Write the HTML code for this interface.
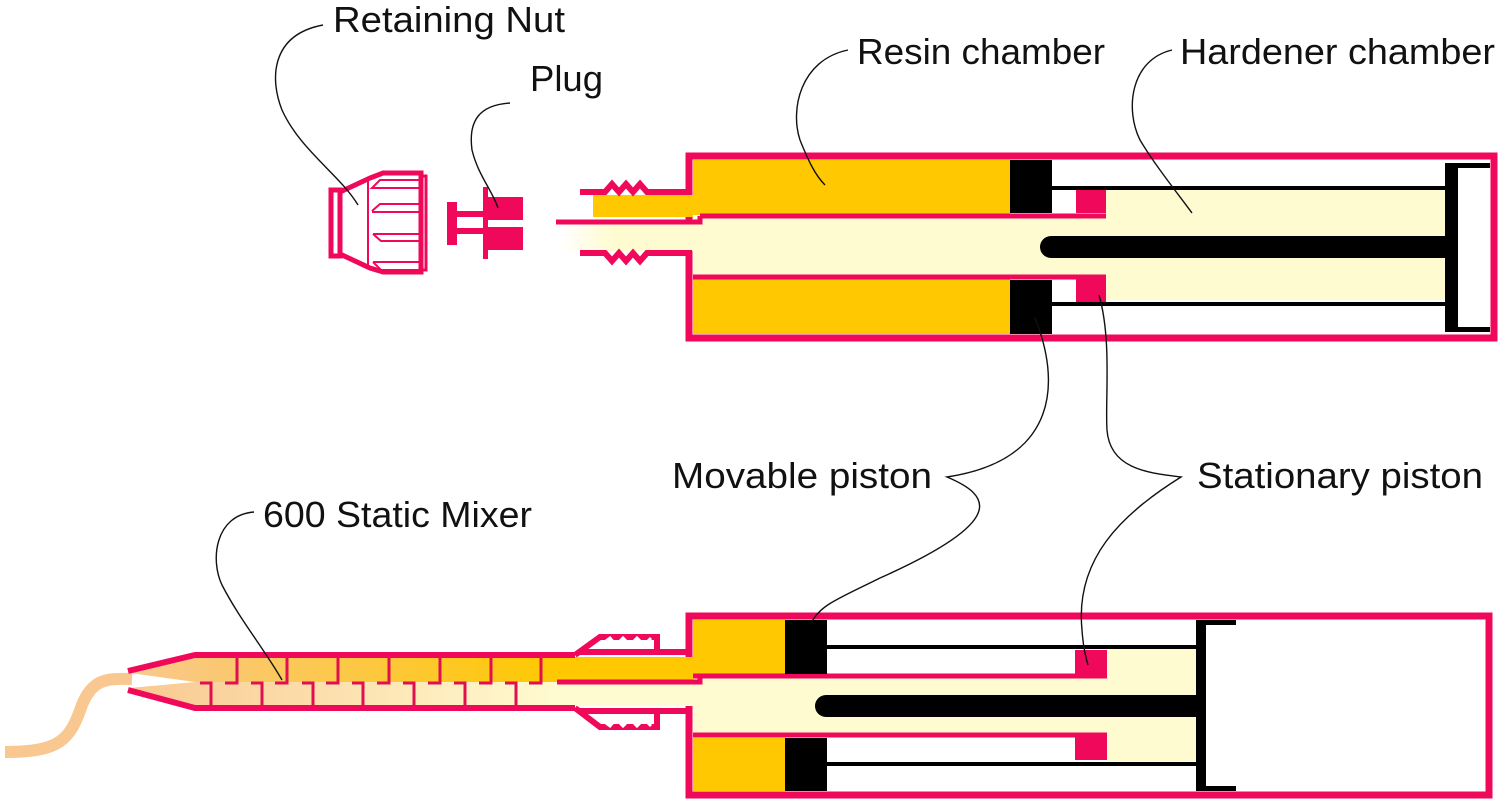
<!DOCTYPE html>
<html><head><meta charset="utf-8"><style>
html,body{margin:0;padding:0;background:#fff;}
svg{display:block;}
text{font-family:"Liberation Sans",sans-serif;font-size:36px;fill:#111;}
</style></head><body>
<svg width="1500" height="803" viewBox="0 0 1500 803" xmlns="http://www.w3.org/2000/svg">
<defs>
<linearGradient id="lt" x1="0" x2="1"><stop offset="0" stop-color="#fffbd0" stop-opacity="0"/><stop offset="0.4" stop-color="#fffbd0"/></linearGradient>
<linearGradient id="my" x1="0" x2="1"><stop offset="0" stop-color="#f9c890"/><stop offset="1" stop-color="#ffc800"/></linearGradient>
<linearGradient id="ml" x1="0" x2="1"><stop offset="0" stop-color="#f9c890"/><stop offset="1" stop-color="#fffbd0"/></linearGradient>
</defs>

<!-- ===== TOP CARTRIDGE ===== -->
<rect x="689" y="156" width="805" height="182" fill="#fff" stroke="#f0085a" stroke-width="7"/>
<rect x="693" y="160" width="317" height="55" fill="#ffc800"/>
<rect x="693" y="279" width="317" height="55" fill="#ffc800"/>
<rect x="1052" y="190" width="393" height="110" fill="#fffbd0"/>
<rect x="693" y="218" width="360" height="58" fill="#fffbd0"/>
<line x1="700" y1="216" x2="1106" y2="216" stroke="#f0085a" stroke-width="5"/>
<line x1="693" y1="277" x2="1106" y2="277" stroke="#f0085a" stroke-width="5"/>
<rect x="1010" y="160" width="42" height="53" fill="#000"/>
<rect x="1010" y="280" width="42" height="54" fill="#000"/>
<rect x="1052" y="190" width="24" height="23" fill="#fff"/>
<rect x="1052" y="280" width="24" height="22" fill="#fff"/>
<rect x="1076" y="190" width="30" height="23" fill="#f0085a"/>
<rect x="1076" y="276" width="30" height="26" fill="#f0085a"/>
<rect x="1052" y="186" width="393" height="4" fill="#000"/>
<rect x="1052" y="302" width="393" height="4" fill="#000"/>
<rect x="1445" y="163" width="13" height="169" fill="#000"/>
<rect x="1445" y="163" width="45" height="5" fill="#000"/>
<rect x="1445" y="327" width="45" height="5" fill="#000"/>
<path d="M1051 236 H1446 V258 H1051 A11 11 0 0 1 1051 236 Z" fill="#000"/>
<!-- top outlet -->
<rect x="593" y="195" width="100" height="22" fill="#ffc800"/>
<rect x="560" y="224" width="135" height="27" fill="url(#lt)"/>
<path d="M580 192 H605 L612 184 L619 192 L626 184 L633 192 L640 184 L647 192 H689 V156" fill="none" stroke="#f0085a" stroke-width="6"/>
<path d="M580 253 H605 L612 261 L619 253 L626 261 L633 253 L640 261 L647 253 H689 V338" fill="none" stroke="#f0085a" stroke-width="6"/>
<path d="M556 222 H700 V216" fill="none" stroke="#f0085a" stroke-width="5"/>

<!-- Retaining nut -->
<g fill="none" stroke="#f0085a">
<rect x="331" y="190" width="9" height="66" stroke-width="5"/>
<path d="M340 192 L370 178 L383 173 H421 V272 H383 L370 268 L340 254" stroke-width="5"/>
<line x1="368" y1="177" x2="368" y2="269" stroke-width="2"/>
<rect x="421" y="176" width="5" height="94" stroke-width="3"/>
<path d="M372 188 L380 180 H420 V188 Z" stroke-width="2"/>
<path d="M372 211 L380 204 H420 V212 H372" stroke-width="2"/>
<path d="M373 234 L381 241 H420 V234 H373" stroke-width="2"/>
<path d="M373 262 L381 270 H420 V262 H373" stroke-width="2"/>
</g>
<!-- Plug -->
<g fill="#f0085a">
<rect x="447" y="202" width="10" height="43"/>
<rect x="457" y="211" width="30" height="6"/>
<rect x="457" y="228" width="30" height="6"/>
<rect x="483" y="187" width="5" height="72"/>
<rect x="486" y="197" width="37" height="23"/>
<rect x="486" y="227" width="37" height="23"/>
</g>

<!-- ===== BOTTOM CARTRIDGE ===== -->
<rect x="689" y="616" width="800" height="179" fill="#fff" stroke="#f0085a" stroke-width="7"/>
<rect x="693" y="620" width="92" height="54" fill="#ffc800"/>
<rect x="693" y="738" width="92" height="53" fill="#ffc800"/>
<rect x="693" y="677" width="507" height="58" fill="#fffbd0"/>
<rect x="1107" y="649" width="93" height="112" fill="#fffbd0"/>
<line x1="693" y1="676" x2="1107" y2="676" stroke="#f0085a" stroke-width="5"/>
<line x1="693" y1="735" x2="1107" y2="735" stroke="#f0085a" stroke-width="5"/>
<rect x="785" y="620" width="42" height="54" fill="#000"/>
<rect x="785" y="738" width="42" height="53" fill="#000"/>
<rect x="1075" y="650" width="32" height="25" fill="#f0085a"/>
<rect x="1075" y="735" width="32" height="25" fill="#f0085a"/>
<rect x="827" y="645" width="373" height="4" fill="#000"/>
<rect x="827" y="762" width="373" height="4" fill="#000"/>
<rect x="1196" y="620" width="10" height="171" fill="#000"/>
<rect x="1196" y="620" width="40" height="5" fill="#000"/>
<rect x="1196" y="786" width="40" height="5" fill="#000"/>
<path d="M826 695 H1197 V717 H826 A11 11 0 0 1 826 695 Z" fill="#000"/>

<!-- bottom outlet/coupler -->
<rect x="555" y="657" width="138" height="24" fill="#ffc800"/>
<rect x="555" y="684" width="138" height="22" fill="#fffbd0"/>
<path d="M575 655 L600 637 H657 V650" fill="none" stroke="#f0085a" stroke-width="6"/>
<path d="M575 708 L600 727 H657 V712" fill="none" stroke="#f0085a" stroke-width="6"/>
<path d="M602 644 L610 638 L616 645 L623 638 L630 645 L637 638 L644 645 L651 638" fill="none" stroke="#fff" stroke-width="3"/>
<path d="M602 720 L610 726 L616 719 L623 726 L630 719 L637 726 L644 719 L651 726" fill="none" stroke="#fff" stroke-width="3"/>
<path d="M580 652 H689 V616" fill="none" stroke="#f0085a" stroke-width="6"/>
<path d="M580 711 H689 V795" fill="none" stroke="#f0085a" stroke-width="6"/>
<path d="M557 682 H700 V676" fill="none" stroke="#f0085a" stroke-width="5"/>

<!-- static mixer -->
<path d="M5 752 C60 752 70 740 82 705 C92 680 105 678 132 679" fill="none" stroke="#f9c890" stroke-width="12"/>
<path d="M130 673 L195 658 H557 V682 H195 Z" fill="url(#my)"/>
<path d="M130 688 L195 705 H557 V682 H195 Z" fill="url(#ml)"/>
<path d="M128 671 L195 655 H575" fill="none" stroke="#f0085a" stroke-width="6"/>
<path d="M128 690 L195 708 H575" fill="none" stroke="#f0085a" stroke-width="6"/>
<g fill="none" stroke="#e01050" stroke-width="3">
<path d="M237 658 V683 H225 M287 658 V683 H275 M338 658 V683 H326 M389 658 V683 H377 M440 658 V683 H428 M491 658 V683 H479 M541 658 V683 H529"/>
<path d="M200 683 H211 V706 M251 683 H262 V706 M302 683 H313 V706 M352 683 H363 V706 M403 683 H414 V706 M454 683 H465 V706 M505 683 H516 V706"/>
</g>

<!-- ===== LEADERS ===== -->
<g fill="none" stroke="#111" stroke-width="1.4">
<path d="M323 25 C270 35 270 80 282 110 C300 150 340 175 358 205"/>
<path d="M510 103 C480 105 468 120 472 150 C478 175 492 190 498 208"/>
<path d="M848 50 C800 60 790 110 800 140 C808 160 815 175 825 185"/>
<path d="M1172 50 C1130 60 1125 110 1140 140 C1155 165 1175 190 1192 213"/>
<path d="M1035 318 C1060 380 1060 460 947 477 C990 495 1010 520 880 578 C840 598 820 605 812 622"/>
<path d="M1099 295 C1112 340 1105 400 1107 430 C1110 470 1150 473 1181 477 C1120 515 1075 560 1082 630 C1083 645 1085 655 1088 665"/>
<path d="M254 512 C215 515 210 560 222 585 C240 620 265 650 282 680"/>
</g>

<!-- ===== LABELS ===== -->
<text x="333" y="32" textLength="232" lengthAdjust="spacingAndGlyphs">Retaining Nut</text>
<text x="530" y="91" textLength="73" lengthAdjust="spacingAndGlyphs">Plug</text>
<text x="857" y="64" textLength="248" lengthAdjust="spacingAndGlyphs">Resin chamber</text>
<text x="1180" y="64" textLength="315" lengthAdjust="spacingAndGlyphs">Hardener chamber</text>
<text x="672" y="488" textLength="260" lengthAdjust="spacingAndGlyphs">Movable piston</text>
<text x="1197" y="488" textLength="286" lengthAdjust="spacingAndGlyphs">Stationary piston</text>
<text x="263" y="527" textLength="269" lengthAdjust="spacingAndGlyphs">600 Static Mixer</text>
</svg>
</body></html>
